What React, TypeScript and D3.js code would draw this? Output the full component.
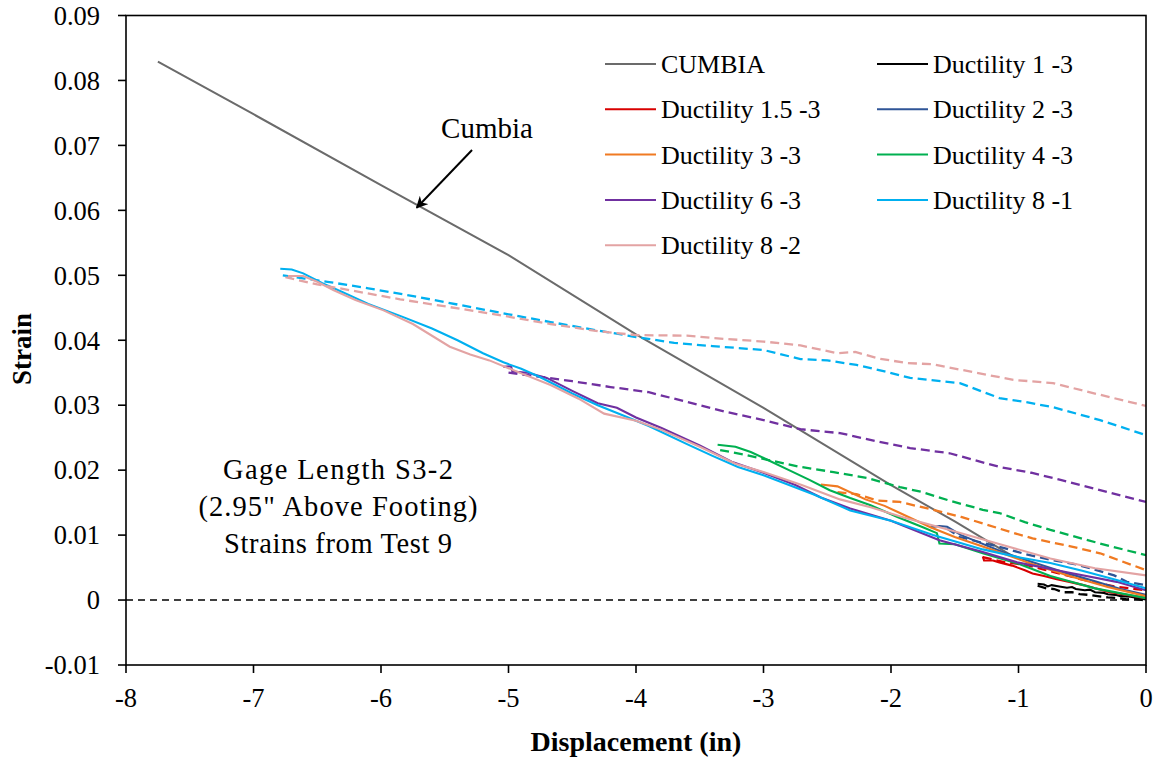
import React from "react";
import * as d3 from "d3";

type P = [number, number];

const xTicks = [-8, -7, -6, -5, -4, -3, -2, -1, 0];
const yTicks = [-0.01, 0, 0.01, 0.02, 0.03, 0.04, 0.05, 0.06, 0.07, 0.08, 0.09];
const yTickLabels = ["-0.01", "0", "0.01", "0.02", "0.03", "0.04", "0.05", "0.06", "0.07", "0.08", "0.09"];

const cumbia: P[] = [[-7.75, 0.0829], [-7, 0.0748], [-6, 0.0639], [-5, 0.0531], [-4, 0.0409], [-3, 0.0296], [-2, 0.0177], [-1.5, 0.0121], [-1.05, 0.0068]];

const d13Load: P[] = [[-0.85, 0.0025], [-0.8, 0.0024], [-0.77, 0.0021], [-0.74, 0.0023], [-0.68, 0.0021], [-0.62, 0.0019], [-0.58, 0.0020], [-0.55, 0.0017], [-0.48, 0.0015], [-0.44, 0.0016], [-0.4, 0.0012], [-0.33, 0.0011], [-0.3, 0.0009], [-0.24, 0.0008], [-0.2, 0.0006], [-0.12, 0.0005], [-0.06, 0.0003], [0, 0.0001]];
const d13Unload: P[] = [[-0.85, 0.0022], [-0.78, 0.0018], [-0.72, 0.0017], [-0.65, 0.0012], [-0.58, 0.0012], [-0.52, 0.0009], [-0.45, 0.0008], [-0.38, 0.0006], [-0.3, 0.0004], [-0.22, 0.0003], [-0.15, 0.0001], [-0.08, 0.0002], [0, -0.0001]];

const d153Load: P[] = [[-1.28, 0.0067], [-1.27, 0.0061], [-1.2, 0.0061], [-1.15, 0.0058], [-1.05, 0.0053], [-0.95, 0.0046], [-0.89, 0.0041], [-0.8, 0.0037], [-0.7, 0.0032], [-0.6, 0.0028], [-0.49, 0.0023], [-0.4, 0.0018], [-0.3, 0.0013], [-0.15, 0.0008], [0, 0.0003]];
const d153Unload: P[] = [[-1.28, 0.0066], [-1.1, 0.0058], [-0.94, 0.0054], [-0.8, 0.0047], [-0.7, 0.0042], [-0.49, 0.0031], [-0.25, 0.0021], [0, 0.0015]];

const d23Load: P[] = [[-1.69, 0.0112], [-1.62, 0.0114], [-1.56, 0.0113], [-1.45, 0.0100], [-1.3, 0.0088], [-1.1, 0.0072], [-0.9, 0.0059], [-0.65, 0.0043], [-0.4, 0.0029], [-0.2, 0.0017], [0, 0.0008]];
const d23Unload: P[] = [[-1.56, 0.0110], [-1.46, 0.0097], [-1.3, 0.0089], [-1.15, 0.0082], [-0.95, 0.0071], [-0.75, 0.0062], [-0.55, 0.0055], [-0.42, 0.0048], [-0.25, 0.0038], [-0.15, 0.0028], [0, 0.0023]];

const d33Load: P[] = [[-2.55, 0.0178], [-2.42, 0.0175], [-2.32, 0.0166], [-2.2, 0.0155], [-2.05, 0.0145], [-1.93, 0.0134], [-1.8, 0.0122], [-1.69, 0.0112], [-1.5, 0.0097], [-1.2, 0.0077], [-0.9, 0.0056], [-0.6, 0.0037], [-0.3, 0.0020], [0, 0.0006]];
const d33Unload: P[] = [[-2.42, 0.0166], [-2.27, 0.0163], [-2.1, 0.0153], [-1.93, 0.0151], [-1.67, 0.0139], [-1.45, 0.0128], [-1.28, 0.0118], [-1.05, 0.0104], [-0.89, 0.0095], [-0.6, 0.0083], [-0.36, 0.0072], [0, 0.0046]];

const d43Load: P[] = [[-3.36, 0.0239], [-3.22, 0.0236], [-3.1, 0.0228], [-2.97, 0.0216], [-2.8, 0.0200], [-2.64, 0.0185], [-2.48, 0.0169], [-2.32, 0.0157], [-2.16, 0.0146], [-1.95, 0.0128], [-1.75, 0.0112], [-1.64, 0.0103], [-1.62, 0.0087], [-1.5, 0.0086], [-1.28, 0.0072], [-1.0, 0.0056], [-0.75, 0.0037], [-0.4, 0.0018], [0, 0.0003]];
const d43Unload: P[] = [[-3.34, 0.0231], [-3.15, 0.0224], [-2.97, 0.0216], [-2.71, 0.0205], [-2.45, 0.0197], [-2.19, 0.0188], [-1.93, 0.0174], [-1.75, 0.0166], [-1.54, 0.0153], [-1.28, 0.0139], [-1.15, 0.0134], [-0.95, 0.0120], [-0.75, 0.0108], [-0.36, 0.0087], [0, 0.0069]];

const d63Load: P[] = [[-5.04, 0.0359], [-4.98, 0.0360], [-4.97, 0.0352], [-4.85, 0.0350], [-4.7, 0.0342], [-4.5, 0.0322], [-4.3, 0.0303], [-4.15, 0.0296], [-4.0, 0.0281], [-3.8, 0.0265], [-3.5, 0.0238], [-3.25, 0.0213], [-3.0, 0.0196], [-2.75, 0.0177], [-2.55, 0.0158], [-2.32, 0.0141], [-2.0, 0.0122], [-1.62, 0.0092], [-1.3, 0.0075], [-1.01, 0.0058], [-0.6, 0.0042], [-0.23, 0.0028], [0, 0.0015]];
const d63Unload: P[] = [[-5.0, 0.0350], [-4.8, 0.0345], [-4.5, 0.0337], [-4.2, 0.0328], [-3.9, 0.0320], [-3.6, 0.0305], [-3.3, 0.0290], [-3.0, 0.0277], [-2.71, 0.0263], [-2.4, 0.0257], [-2.1, 0.0244], [-1.85, 0.0234], [-1.54, 0.0226], [-1.15, 0.0205], [-0.9, 0.0196], [-0.67, 0.0185], [-0.28, 0.0165], [0, 0.0151]];

const d81Load: P[] = [[-6.79, 0.0510], [-6.7, 0.0509], [-6.61, 0.0503], [-6.46, 0.0488], [-6.3, 0.0474], [-6.1, 0.0456], [-5.83, 0.0436], [-5.6, 0.0418], [-5.4, 0.0400], [-5.2, 0.0380], [-5.04, 0.0366], [-4.9, 0.0356], [-4.75, 0.0343], [-4.5, 0.0318], [-4.3, 0.0300], [-4.1, 0.0284], [-3.9, 0.0268], [-3.6, 0.0240], [-3.4, 0.0222], [-3.2, 0.0205], [-3.0, 0.0192], [-2.8, 0.0177], [-2.6, 0.0162], [-2.32, 0.0138], [-2.0, 0.0122], [-1.67, 0.0100], [-1.28, 0.0078], [-1.0, 0.0066], [-0.75, 0.0057], [-0.5, 0.0045], [-0.23, 0.0031], [0, 0.0018]];
const d81Unload: P[] = [[-6.77, 0.0500], [-6.6, 0.0495], [-6.42, 0.0490], [-6.1, 0.0480], [-5.72, 0.0467], [-5.4, 0.0455], [-5.0, 0.0440], [-4.67, 0.0428], [-4.3, 0.0415], [-4.0, 0.0405], [-3.7, 0.0396], [-3.4, 0.0391], [-3.0, 0.0385], [-2.71, 0.0371], [-2.5, 0.0369], [-2.27, 0.0362], [-2.05, 0.0352], [-1.85, 0.0342], [-1.46, 0.0334], [-1.15, 0.0311], [-0.95, 0.0305], [-0.73, 0.0297], [-0.36, 0.0277], [0, 0.0254]];

const d82Load: P[] = [[-6.73, 0.0499], [-6.61, 0.0499], [-6.5, 0.0490], [-6.37, 0.0477], [-6.2, 0.0462], [-5.98, 0.0446], [-5.75, 0.0425], [-5.46, 0.0390], [-5.3, 0.0378], [-5.15, 0.0369], [-4.9, 0.0349], [-4.67, 0.0331], [-4.45, 0.0310], [-4.25, 0.0287], [-4.0, 0.0276], [-3.8, 0.0262], [-3.5, 0.0236], [-3.22, 0.0210], [-3.0, 0.0197], [-2.7, 0.0177], [-2.4, 0.0155], [-2.16, 0.0143], [-1.9, 0.0127], [-1.54, 0.0108], [-1.2, 0.0089], [-0.75, 0.0064], [-0.4, 0.0049], [0, 0.0038]];
const d82Unload: P[] = [[-6.75, 0.0497], [-6.5, 0.0486], [-6.24, 0.0477], [-5.85, 0.0463], [-5.46, 0.0451], [-5.05, 0.0438], [-4.67, 0.0425], [-4.3, 0.0414], [-4.0, 0.0408], [-3.6, 0.0407], [-3.3, 0.0402], [-3.0, 0.0398], [-2.71, 0.0392], [-2.42, 0.0380], [-2.28, 0.0382], [-2.1, 0.0372], [-1.88, 0.0365], [-1.67, 0.0363], [-1.36, 0.0351], [-1.04, 0.0339], [-0.73, 0.0334], [-0.36, 0.0316], [0, 0.0299]];

const seriesNames = ["Ductility 1 -3", "Ductility 1.5 -3", "Ductility 2 -3", "Ductility 3 -3", "Ductility 4 -3", "Ductility 6 -3", "Ductility 8 -1", "Ductility 8 -2"];
const seriesColors = ["#000000", "#D80000", "#2F5597", "#F07A22", "#00B050", "#7030A0", "#00B0F0", "#E3A3A3"];
const seriesLoad = [d13Load, d153Load, d23Load, d33Load, d43Load, d63Load, d81Load, d82Load];
const seriesUnload = [d13Unload, d153Unload, d23Unload, d33Unload, d43Unload, d63Unload, d81Unload, d82Unload];

const legendOrder = ["CUMBIA", "Ductility 1 -3", "Ductility 1.5 -3", "Ductility 2 -3", "Ductility 3 -3", "Ductility 4 -3", "Ductility 6 -3", "Ductility 8 -1", "Ductility 8 -2"];
const cumbiaColor = "#6B6B6B";

const noteLines = ["Gage Length S3-2", "(2.95\" Above Footing)", "Strains from Test 9"];
const noteWidths = [230, 279, 228];

export default function App() {
  const W = 1155, H = 758;
  const L = 126, R = 1146, T = 15.5, B = 665;
  const x = d3.scaleLinear().domain([-8, 0]).range([L, R]);
  const y = d3.scaleLinear().domain([-0.01, 0.09]).range([B, T]);
  const line = d3.line<P>().x(d => x(d[0])).y(d => y(d[1]));
  const font = "'Liberation Serif', 'Times New Roman', serif";

  const legendItems = legendOrder.map((name, i) => {
    const col = i % 2;
    const row = Math.floor(i / 2);
    const color = name === "CUMBIA" ? cumbiaColor : seriesColors[seriesNames.indexOf(name)];
    const lx = col === 0 ? 605 : 877;
    const ly = 64 + row * 45.3;
    return { name, color, lx, ly };
  });

  const arrowTail: P = [-5.286, 0.0693];
  const arrowHead: P = [-5.72, 0.0604];

  return (
    <svg width={W} height={H} style={{ position: "absolute", left: 0, top: 0, background: "#fff" }} fontFamily={font}>
      <defs>
        <marker id="ah" viewBox="0 0 10 10" refX="9" refY="5" markerWidth="6" markerHeight="6" orient="auto" markerUnits="strokeWidth">
          <path d="M0,0 L10,5 L0,10 L3,5 z" fill="#000" />
        </marker>
        <clipPath id="pc"><rect x={L} y={T} width={R - L} height={B - T} /></clipPath>
      </defs>
      <rect width={W} height={H} fill="#fff" />
      <line x1={L} x2={R} y1={y(0)} y2={y(0)} stroke="#000" strokeWidth={1.5} strokeDasharray="7,5" />

      <g clipPath="url(#pc)">
        <path d={line(cumbia) || ""} fill="none" stroke={cumbiaColor} strokeWidth={2} />
        {seriesNames.map((n, i) => (
          <g key={n}>
            <path d={line(seriesUnload[i]) || ""} fill="none" stroke={seriesColors[i]} strokeWidth={2.3} strokeDasharray="9,5" />
            <path d={line(seriesLoad[i]) || ""} fill="none" stroke={seriesColors[i]} strokeWidth={2.1} />
          </g>
        ))}
      </g>

      <rect x={L} y={T} width={R - L} height={B - T} fill="none" stroke="#000" strokeWidth={1.6} />
      {yTicks.map((t, i) => (
        <g key={"y" + i}>
          <line x1={L - 8} x2={L} y1={y(t)} y2={y(t)} stroke="#000" strokeWidth={1.6} />
          <text x={100} y={y(t)} dy="0.35em" textAnchor="end" fontSize={26.5}>{yTickLabels[i]}</text>
        </g>
      ))}
      {xTicks.map((t) => (
        <g key={"x" + t}>
          <line x1={x(t)} x2={x(t)} y1={B} y2={B + 8} stroke="#000" strokeWidth={1.6} />
          <text x={x(t)} y={707} textAnchor="middle" fontSize={26.5}>{String(t)}</text>
        </g>
      ))}
      <text x={636} y={751} textAnchor="middle" fontSize={28} fontWeight="bold">Displacement (in)</text>
      <text transform={`translate(31,349) rotate(-90)`} textAnchor="middle" fontSize={27} fontWeight="bold">Strain</text>

      {legendItems.map((it) => (
        <g key={it.name}>
          <line x1={it.lx} x2={it.lx + 51} y1={it.ly} y2={it.ly} stroke={it.color} strokeWidth={2} />
          <text x={it.lx + 56} y={it.ly} dy="0.35em" fontSize={26}>{it.name}</text>
        </g>
      ))}

      <text x={487} y={128} dy="0.35em" textAnchor="middle" fontSize={29}>Cumbia</text>
      <line x1={x(arrowTail[0])} y1={y(arrowTail[1])} x2={x(arrowHead[0])} y2={y(arrowHead[1])} stroke="#000" strokeWidth={2} markerEnd="url(#ah)" />
      {noteLines.map((s, i) => (
        <text key={s} x={338 - noteWidths[i] / 2} y={469 + i * 37} dy="0.35em" fontSize={28.5} textLength={noteWidths[i]} lengthAdjust="spacing">{s}</text>
      ))}
    </svg>
  );
}
